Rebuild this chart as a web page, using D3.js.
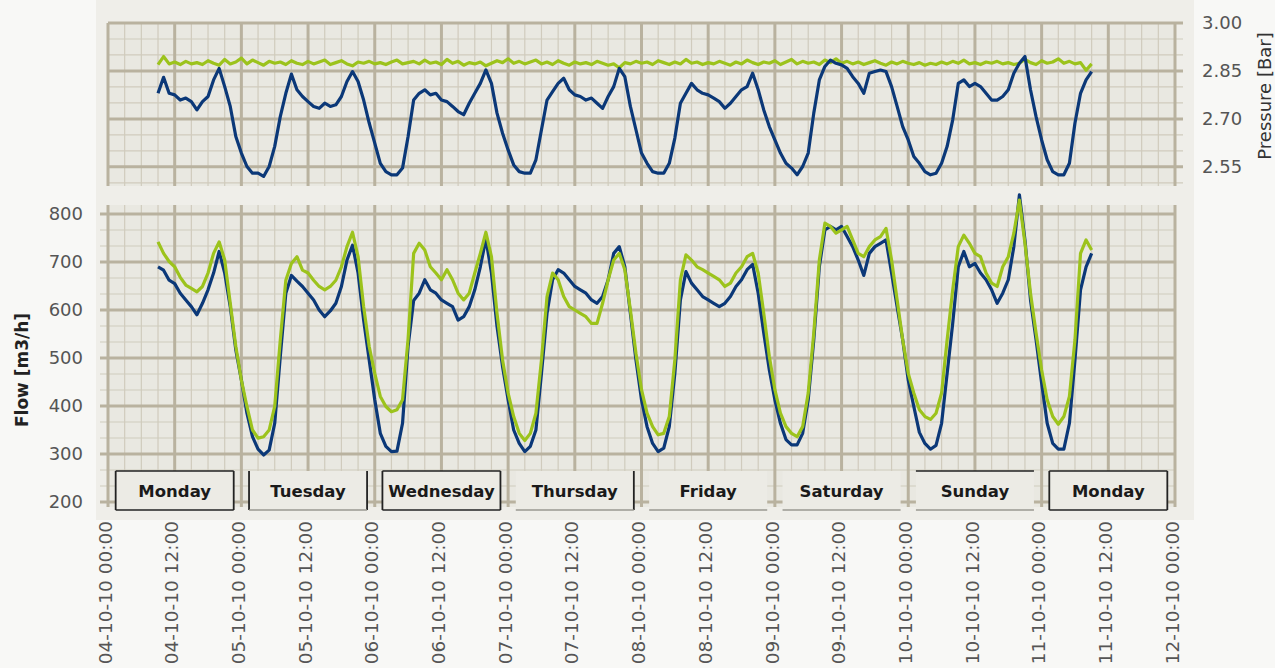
<!DOCTYPE html>
<html><head><meta charset="utf-8">
<script src="https://cdn.jsdelivr.net/npm/d3@7"></script>
<style>body{margin:0;background:#f8f8f6;}svg{display:block}</style>
</head><body><svg id="c" width="1275" height="668"></svg>
<script>
// ---------------- DATA ----------------
const seriesStart = "04-10-10 09:00";   // hourly samples
const flowMeasured = [
  690,683,662,655,635,621,607,590,614,642,677,722,677,607,517,
  454,385,336,310,298,308,364,503,635,672,660,649,635,621,600,586,598,614,649,704,735,677,579,496,
  413,343,316,305,306,364,525,620,635,663,642,635,621,614,607,579,586,607,642,690,748,677,566,482,
  413,350,322,305,316,350,468,593,663,684,677,663,649,642,635,621,614,628,663,718,732,690,593,496,
  413,357,322,305,312,357,468,621,680,656,642,628,621,614,607,614,628,649,663,684,695,635,552,475,
  413,364,330,319,319,343,413,538,690,767,774,767,774,753,732,704,672,718,732,739,746,677,607,538,
  454,399,345,322,310,318,364,468,572,690,722,690,697,677,663,642,614,635,663,732,840,746,621,538,
  448,364,322,310,310,364,496,642,690,718
];
const flowModel = [
  742,718,701,690,668,652,645,638,649,677,718,742,704,614,524,
  454,399,350,333,336,350,399,537,662,697,711,683,677,662,649,642,649,662,690,732,762,711,607,524,
  468,420,399,388,392,413,540,718,739,725,690,677,663,684,663,635,621,635,677,718,762,711,593,496,
  427,378,343,328,343,385,496,628,677,663,628,607,600,593,586,572,572,614,663,704,718,684,600,510,
  434,385,357,340,343,378,496,663,715,704,690,684,677,670,663,649,656,677,690,711,718,677,593,503,
  434,385,357,343,336,357,427,552,704,781,774,760,767,774,746,718,711,732,746,753,770,704,621,538,
  468,427,392,378,372,385,427,538,642,732,756,739,718,711,677,656,649,690,711,760,829,739,635,552,
  475,413,378,362,378,420,538,718,746,725
];
const pressureMeasured = [
  2.780,2.830,2.780,2.775,2.759,2.765,2.754,2.728,2.754,2.770,2.822,2.858,2.801,2.739,2.645,
  2.593,2.551,2.530,2.530,2.520,2.551,2.614,2.707,2.780,2.840,2.791,2.770,2.754,2.739,2.733,2.749,2.739,2.744,2.770,2.817,2.848,2.817,2.759,2.687,
  2.624,2.561,2.535,2.525,2.525,2.546,2.645,2.759,2.780,2.791,2.775,2.780,2.759,2.754,2.739,2.723,2.713,2.749,2.780,2.811,2.853,2.811,2.718,2.655,
  2.603,2.556,2.535,2.530,2.530,2.572,2.666,2.759,2.785,2.811,2.827,2.791,2.775,2.770,2.759,2.765,2.749,2.733,2.770,2.801,2.858,2.832,2.739,2.666,
  2.593,2.561,2.535,2.530,2.530,2.561,2.640,2.749,2.780,2.811,2.791,2.780,2.775,2.765,2.754,2.733,2.749,2.770,2.791,2.801,2.843,2.791,2.728,2.676,
  2.634,2.593,2.561,2.546,2.525,2.551,2.593,2.718,2.822,2.864,2.884,2.874,2.869,2.858,2.832,2.811,2.780,2.843,2.848,2.853,2.848,2.801,2.739,2.676,
  2.634,2.582,2.561,2.535,2.525,2.530,2.561,2.614,2.697,2.811,2.822,2.801,2.811,2.801,2.780,2.759,2.759,2.770,2.791,2.843,2.874,2.895,2.791,2.707,
  2.634,2.572,2.535,2.525,2.525,2.561,2.687,2.780,2.822,2.848
];
const pressureModel = [
  2.870,2.895,2.872,2.878,2.870,2.880,2.872,2.876,2.870,2.882,2.874,2.868,2.886,2.872,2.878,
  2.890,2.872,2.884,2.876,2.868,2.880,2.874,2.878,2.870,2.882,2.874,2.870,2.880,2.872,2.878,2.884,2.870,2.876,2.882,2.872,2.866,2.878,2.874,2.880,
  2.872,2.876,2.870,2.878,2.884,2.872,2.876,2.880,2.872,2.884,2.874,2.878,2.870,2.886,2.874,2.880,2.868,2.876,2.872,2.878,2.866,2.874,2.882,2.876,
  2.888,2.874,2.880,2.872,2.878,2.884,2.872,2.878,2.870,2.882,2.874,2.868,2.878,2.872,2.876,2.870,2.880,2.874,2.868,2.872,2.860,2.876,2.872,2.880,
  2.874,2.878,2.870,2.882,2.876,2.870,2.878,2.872,2.886,2.874,2.878,2.870,2.876,2.872,2.880,2.874,2.868,2.878,2.872,2.884,2.876,2.870,2.878,2.874,
  2.882,2.870,2.878,2.886,2.872,2.880,2.874,2.878,2.870,2.884,2.876,2.888,2.874,2.880,2.872,2.878,2.870,2.876,2.882,2.874,2.868,2.878,2.872,2.880,
  2.874,2.870,2.876,2.868,2.874,2.870,2.878,2.872,2.880,2.874,2.884,2.872,2.876,2.870,2.878,2.874,2.880,2.872,2.876,2.870,2.874,2.886,2.876,2.870,
  2.882,2.874,2.878,2.888,2.874,2.880,2.872,2.876,2.852,2.872
];
const pressureTicks = [2.55, 2.70, 2.85, 3.00];
const flowTicks = [200, 300, 400, 500, 600, 700, 800];
const dayLabels = ["Monday","Tuesday","Wednesday","Thursday","Friday","Saturday","Sunday","Monday"];
const xTickLabels = ["04-10-10 00:00","04-10-10 12:00","05-10-10 00:00","05-10-10 12:00","06-10-10 00:00",
  "06-10-10 12:00","07-10-10 00:00","07-10-10 12:00","08-10-10 00:00","08-10-10 12:00","09-10-10 00:00",
  "09-10-10 12:00","10-10-10 00:00","10-10-10 12:00","11-10-10 00:00","11-10-10 12:00","12-10-10 00:00"];

// ---------------- DRAW ----------------
const svg = d3.select("#c");
const parseT = d3.timeParse("%d-%m-%y %H:%M");
const tStart = parseT(xTickLabels[0]), tEnd = parseT(xTickLabels[xTickLabels.length-1]);
const x = d3.scaleTime().domain([tStart, tEnd]).range([108, 1175]);
const yP = d3.scaleLinear().domain([2.49, 3.00]).range([186, 23]);
const yF = d3.scaleLinear().domain([200, 800]).range([502, 214]);
const fTop = yF.invert(205), fBot = yF.invert(507);

const C = {bg:"#efeee9", plot:"#e9e8e1", major:"#b9b29f", minor:"#d0cbbd", dark:"#0b3878", green:"#9cc31c"};

svg.append("rect").attr("x",96).attr("y",0).attr("width",1098).attr("height",520).attr("fill",C.bg);

function panel(y, domain, minorStep, majorVals, y0, y1, tickSide){
  const g = svg.append("g");
  g.append("rect").attr("x",x.range()[0]).attr("y",y(y1)).attr("width",x.range()[1]-x.range()[0])
    .attr("height",y(y0)-y(y1)).attr("fill",C.plot);
  const minorH = d3.range(domain[0], domain[1]+1e-9, minorStep);
  const xl = tickSide==="left" ? x.range()[0]-8 : x.range()[0];
  const xr = tickSide==="right" ? x.range()[1]+8 : x.range()[1];
  g.selectAll(".mh").data(minorH).join("line").attr("x1",xl).attr("x2",xr)
    .attr("y1",d=>y(d)).attr("y2",d=>y(d)).attr("stroke",C.minor).attr("stroke-width",1.2);
  const minorV = d3.timeHour.every(3).range(tStart, d3.timeHour.offset(tEnd,1));
  g.selectAll(".mv").data(minorV).join("line").attr("x1",d=>x(d)).attr("x2",d=>x(d))
    .attr("y1",y(y0)).attr("y2",y(y1)).attr("stroke",C.minor).attr("stroke-width",1.2);
  const majorV = d3.timeHour.every(12).range(tStart, d3.timeHour.offset(tEnd,1));
  g.selectAll(".Mv").data(majorV).join("line").attr("x1",d=>x(d)).attr("x2",d=>x(d))
    .attr("y1",y(y0)).attr("y2",y(y1)).attr("stroke",C.major).attr("stroke-width",3);
  g.selectAll(".Mh").data(majorVals).join("line").attr("x1",xl).attr("x2",xr)
    .attr("y1",d=>y(d)).attr("y2",d=>y(d)).attr("stroke",C.major).attr("stroke-width",3);
}
panel(yP, [2.50, 3.00], 0.05, pressureTicks, 2.49, 3.00, "right");
panel(yF, [200, 800], 100/3, flowTicks, fBot, fTop, "left");

const t0 = parseT(seriesStart);
const pts = arr => arr.map((v,i)=>({t:d3.timeHour.offset(t0,i), v}));
const lineP = d3.line().x(d=>x(d.t)).y(d=>yP(d.v));
const lineF = d3.line().x(d=>x(d.t)).y(d=>yF(d.v));
function draw(gen, arr, col){
  svg.append("path").datum(pts(arr)).attr("d",gen).attr("fill","none").attr("stroke",col)
    .attr("stroke-width",3.2).attr("stroke-linejoin","round");
}
draw(lineP, pressureModel, C.green);
draw(lineP, pressureMeasured, C.dark);
draw(lineF, flowMeasured, C.dark);
draw(lineF, flowModel, C.green);

// axis labels
const tf = "DejaVu Sans, sans-serif";
svg.selectAll(".pl").data(pressureTicks).join("text").attr("x",1202).attr("y",d=>yP(d)).attr("dy","0.36em")
  .attr("font-family",tf).attr("font-size",18).attr("fill","#555").text(d=>d3.format(".2f")(d));
svg.selectAll(".fl").data(flowTicks).join("text").attr("x",83).attr("y",d=>yF(d)).attr("dy","0.36em")
  .attr("text-anchor","end").attr("font-family",tf).attr("font-size",18).attr("fill","#555").text(d=>d);
svg.append("text").attr("transform","translate(22,370) rotate(-90)").attr("text-anchor","middle").attr("dy","0.35em")
  .attr("font-family",tf).attr("font-size",17).attr("font-weight","bold").attr("fill","#222").text("Flow [m3/h]");
svg.append("text").attr("transform","translate(1265,96) rotate(-90)").attr("text-anchor","middle").attr("dy","0.35em")
  .attr("font-family",tf).attr("font-size",18).attr("fill","#333").text("Pressure [Bar]");

// x tick labels
svg.selectAll(".xl").data(xTickLabels).join("text")
  .attr("transform",d=>`translate(${x(parseT(d))-3},521) rotate(-90)`)
  .attr("text-anchor","end").attr("dy","0.36em").attr("font-family",tf).attr("font-size",18.5)
  .attr("fill","#555").text(d=>d);

// day boxes
const boxSides = ["tlrb","lr","tlrb","r","","","t","tlrb"];
const dayMs = 24*3600*1000, boxW = 0.885;
dayLabels.forEach((lab,i)=>{
  const noon = d3.timeHour.offset(tStart, i*24+12);
  const half = x(new Date(+noon + boxW*dayMs/2)) - x(noon);
  const x0 = x(noon)-half, x1 = x(noon)+half, y0 = 471, y1 = 510;
  const g = svg.append("g");
  g.append("rect").attr("x",x0).attr("y",y0).attr("width",x1-x0).attr("height",y1-y0).attr("fill","#ecebe5");
  const s = boxSides[i];
  const seg = (a,b,c,d,col,w)=>g.append("line").attr("x1",a).attr("y1",b).attr("x2",c).attr("y2",d).attr("stroke",col).attr("stroke-width",w);
  if(s.includes("t")) seg(x0,y0,x1,y0,"#222",1.6);
  if(s.includes("l")) seg(x0,y0,x0,y1,"#222",1.8);
  if(s.includes("r")) seg(x1,y0,x1,y1,"#222",1.8);
  seg(x0,y1,x1,y1,s.includes("b")?"#222":"#9a9890",1.6);
  g.append("text").attr("x",(x0+x1)/2).attr("y",(y0+y1)/2+1).attr("dy","0.35em").attr("text-anchor","middle")
    .attr("font-family",tf).attr("font-weight","bold").attr("font-size",16.5).attr("fill","#1a1a1a").text(lab);
});
</script></body></html>
